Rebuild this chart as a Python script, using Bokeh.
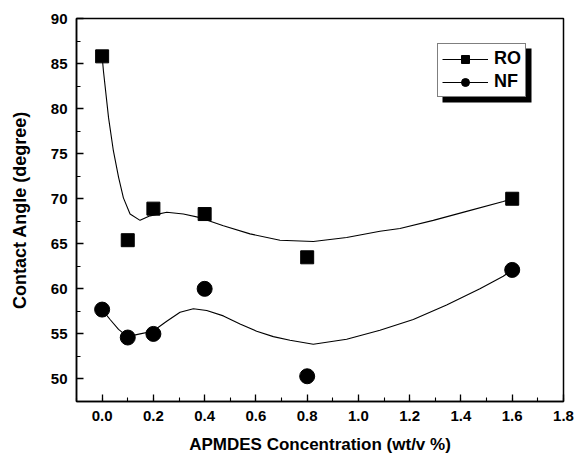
from bokeh.plotting import figure
from bokeh.models import (Range1d, SingleIntervalTicker, PrintfTickFormatter,
                          Legend, LegendItem, BoxAnnotation)
from bokeh.embed import file_html
from bokeh.resources import INLINE

# ---- data ----
conc = [0.0, 0.1, 0.2, 0.4, 0.8, 1.6]
ro_angle = [85.8, 65.4, 68.9, 68.3, 63.5, 70.0]
nf_angle = [57.7, 54.6, 55.0, 60.0, 50.3, 62.1]

# smooth fitted curves
ro_fit_x = [0.0, 0.005, 0.025, 0.044, 0.064, 0.083, 0.109, 0.148, 0.187, 0.252,
            0.317, 0.382, 0.473, 0.577, 0.694, 0.824, 0.954, 1.084, 1.162, 1.292,
            1.422, 1.565, 1.6]
ro_fit_y = [85.8, 84.2, 79.0, 75.3, 72.4, 70.1, 68.3, 67.6, 68.1, 68.5,
            68.3, 67.9, 67.0, 66.1, 65.4, 65.25, 65.7, 66.4, 66.7, 67.6,
            68.6, 69.7, 70.0]
nf_fit_x = [0.0, 0.031, 0.064, 0.099, 0.148, 0.198, 0.252, 0.304, 0.356, 0.408,
            0.473, 0.538, 0.603, 0.668, 0.733, 0.824, 0.954, 1.084, 1.214, 1.344,
            1.474, 1.565, 1.6]
nf_fit_y = [57.7, 56.6, 55.5, 54.7, 55.0, 55.3, 56.4, 57.4, 57.8, 57.6,
            57.0, 56.1, 55.3, 54.7, 54.3, 53.85, 54.4, 55.4, 56.6, 58.2,
            60.0, 61.4, 62.1]

series_names = ["RO", "NF"]
x_title = "APMDES Concentration (wt/v %)"
y_title = "Contact Angle (degree)"

FONT = "Liberation Sans"

p = figure(width=576, height=457, output_backend="svg", toolbar_location=None,
           x_range=Range1d(-0.1, 1.8001), y_range=Range1d(47.5, 90),
           min_border_left=76, min_border_right=13, min_border_top=18,
           min_border_bottom=56)
p.background_fill_color = "white"
p.border_fill_color = "white"
p.outline_line_color = "black"
p.outline_line_width = 1.5
p.xgrid.visible = False
p.ygrid.visible = False

ro_line = p.line(ro_fit_x, ro_fit_y, line_color="black", line_width=1.1)
ro_pts = p.scatter(conc, ro_angle, marker="square", size=13, fill_color="black",
                   line_color="black")
nf_line = p.line(nf_fit_x, nf_fit_y, line_color="black", line_width=1.1)
nf_pts = p.scatter(conc, nf_angle, marker="circle", size=15, fill_color="black",
                   line_color="black")

xax = p.xaxis[0]
yax = p.yaxis[0]
xax.ticker = SingleIntervalTicker(interval=0.2, num_minor_ticks=2)
yax.ticker = SingleIntervalTicker(interval=5, num_minor_ticks=2)
xax.formatter = PrintfTickFormatter(format="%.1f")
for ax in (xax, yax):
    ax.axis_line_width = 1.5
    ax.axis_line_color = "black"
    ax.major_tick_in = 7
    ax.major_tick_out = 0
    ax.minor_tick_in = 4
    ax.minor_tick_out = 0
    ax.major_tick_line_width = 1.3
    ax.minor_tick_line_width = 1.1
    ax.major_label_text_font = FONT
    ax.major_label_text_font_style = "bold"
    ax.major_label_text_font_size = "15px"
    ax.major_label_text_color = "black"
    ax.axis_label_text_font = FONT
    ax.axis_label_text_font_style = "bold"
    ax.axis_label_text_color = "black"
xax.axis_label_text_font_size = "17px"
yax.axis_label_text_font_size = "18px"
xax.axis_label = x_title
yax.axis_label = y_title
xax.major_label_standoff = 9
yax.major_label_standoff = 9
xax.axis_label_standoff = 11
yax.axis_label_standoff = 18

# drop shadow behind the legend box (canvas pixels)
shadow = BoxAnnotation(left=442, right=531, top=48, bottom=102,
                       left_units="canvas", right_units="canvas",
                       top_units="canvas", bottom_units="canvas",
                       fill_color="black", fill_alpha=1.0, line_alpha=0.0)
p.add_layout(shadow, "center")

legend = Legend(items=[LegendItem(label=series_names[0], renderers=[ro_line, ro_pts]),
                       LegendItem(label=series_names[1], renderers=[nf_line, nf_pts])],
                location=(361, 304), orientation="vertical",
                glyph_width=46, glyph_height=20, label_height=20,
                label_standoff=6, padding=4, spacing=2, margin=0,
                border_line_color="black", border_line_width=1.3,
                background_fill_color="white", background_fill_alpha=1.0,
                label_text_font=FONT, label_text_font_style="bold",
                label_text_font_size="18px", label_text_color="black")
p.add_layout(legend, "center")

open("out.html", "w").write(file_html(p, INLINE))
